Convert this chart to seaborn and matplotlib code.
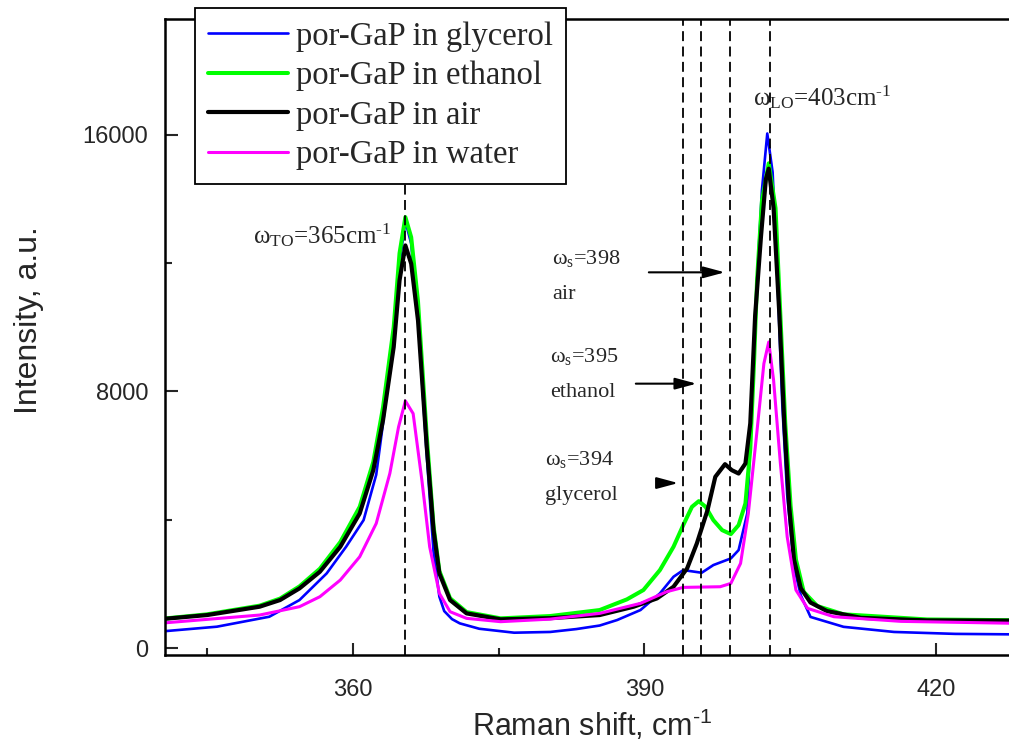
import numpy as np
import pandas as pd
import matplotlib
matplotlib.use("Agg")
import matplotlib.pyplot as plt
import seaborn as sns
from matplotlib.lines import Line2D

# Spectra (Raman shift in cm-1, intensity in a.u.)
x_gly = [340.0, 346.0, 351.4, 354.5, 357.3, 359.3, 361.1, 362.4, 363.1, 364.2, 364.8, 365.4, 366.0,
         366.7, 367.6, 368.3, 368.9, 369.4, 370.2, 371.0, 373.0, 376.6, 380.3, 383.0, 385.4, 387.2,
         389.6, 391.6, 393.0, 394.0, 395.9, 397.1, 398.9, 399.7, 400.6, 401.1, 401.6, 402.1, 402.65,
         403.2, 403.7, 404.2, 404.7, 405.4, 406.1, 407.1, 410.5, 415.7, 422.0, 430.0]
y_gly = [508, 664, 975, 1494, 2325, 3155, 3985, 5400, 7000, 9700, 12000, 13300, 12600,
         10300, 6000, 3000, 1600, 1150, 900, 768, 600, 477, 500, 590, 700, 872,
         1183, 1702, 2220, 2428, 2345, 2584, 2791, 3051, 4209, 8119, 11471, 14267, 16032,
         14824, 11471, 7561, 4769, 2534, 1641, 968, 660, 500, 440, 420]

x_eth = [340.0, 345.0, 350.4, 352.5, 354.5, 356.6, 358.7, 360.7, 362.1, 363.1, 364.2, 364.8, 365.4,
         366.0, 366.7, 367.6, 368.3, 368.9, 370.0, 371.7, 375.2, 380.3, 385.4, 388.2, 389.9, 391.6,
         393.0, 394.0, 394.9, 395.6, 396.3, 397.1, 398.0, 398.9, 399.7, 400.4, 400.9, 401.3, 401.6,
         402.1, 402.8, 403.5, 404.0, 404.5, 405.05, 405.6, 406.4, 407.8, 410.5, 419.1, 430.0]
y_eth = [900, 1050, 1320, 1540, 1920, 2470, 3300, 4400, 5800, 7500, 10000, 12300, 13427,
         12800, 10800, 6600, 3800, 2400, 1550, 1120, 924, 996, 1183, 1515, 1806, 2428,
         3155, 3829, 4400, 4576, 4400, 3985, 3673, 3549, 3829, 4504, 6200, 9000, 11471,
         13931, 15104, 13707, 10354, 7004, 4433, 2758, 1751, 1307, 1050, 890, 860]

x_air = [340.0, 345.0, 350.4, 352.5, 354.5, 356.6, 358.7, 360.7, 362.1, 363.1, 364.2, 364.8, 365.4,
         366.0, 366.7, 367.6, 368.3, 368.9, 370.0, 371.7, 375.2, 380.3, 385.4, 388.9, 391.3, 393.0,
         394.4, 395.4, 396.5, 397.3, 398.3, 399.0, 399.7, 400.4, 400.9, 401.4, 402.0, 402.5, 402.8,
         403.3, 403.9, 404.4, 404.9, 405.4, 406.1, 407.1, 408.8, 412.3, 419.1, 430.0]
y_air = [893, 1027, 1287, 1494, 1857, 2376, 3155, 4192, 5541, 7098, 9380, 11456, 12545,
         11975, 10211, 6267, 3673, 2325, 1494, 1079, 893, 930, 1027, 1287, 1546, 1909,
         2480, 3258, 4296, 5334, 5728, 5541, 5437, 5748, 7000, 10354, 12813, 14600, 14936,
         13707, 10354, 7004, 4433, 2758, 1862, 1416, 1150, 940, 860, 850]

x_wat = [340.0, 350.4, 354.5, 356.6, 358.7, 360.7, 362.4, 363.8, 364.7, 365.4, 366.2, 367.1, 367.9,
         368.9, 370.0, 371.7, 375.2, 380.3, 385.4, 389.6, 392.3, 394.0, 397.8, 398.9, 399.9, 400.7,
         401.6, 402.3, 402.8, 403.3, 404.0, 404.7, 405.6, 406.8, 409.5, 416.4, 430.0]
y_wat = [768, 1027, 1287, 1598, 2117, 2843, 3881, 5437, 6890, 7700, 7305, 5230, 3155,
         1702, 1131, 924, 820, 900, 1079, 1391, 1754, 1889, 1909, 2013, 2636, 4192,
         6786, 8862, 9536, 8343, 5748, 3465, 1806, 1235, 975, 830, 760]

series_labels = ["por-GaP in glycerol", "por-GaP in ethanol", "por-GaP in air", "por-GaP in water"]
series_colors = ["#0000ff", "#00ff00", "#000000", "#ff00ff"]
series_widths = [1.9, 2.9, 3.0, 2.2]

# positions of the dashed marker lines
mode_lines = [365.4, 394.0, 395.8, 398.8, 402.9]

sns.set_style("ticks")
plt.rcParams['font.family'] = ['Liberation Sans', 'DejaVu Sans']
plt.rcParams['mathtext.default'] = 'regular'

fig = plt.figure(figsize=(10.09, 7.5), dpi=100)
ax = fig.add_axes([165 / 1009, 95 / 750, 868 / 1009, 636 / 750])

curves = [(x_gly, y_gly), (x_eth, y_eth), (x_air, y_air), (x_wat, y_wat)]
for (xs, ys), lab, col, lw in zip(curves, series_labels, series_colors, series_widths):
    df = pd.DataFrame({"shift": xs, "intensity": ys})
    sns.lineplot(data=df, x="shift", y="intensity", color=col, linewidth=lw,
                 sort=False, estimator=None, ax=ax, legend=False)

for xv in mode_lines:
    ax.axvline(xv, color="black", linewidth=1.3, dashes=(5.5, 3), zorder=5)

ax.set_xlim(340.66, 430)
ax.set_ylim(-218, 19600)
ax.set_xticks([360, 390, 420])
ax.set_xticks([345, 375, 405], minor=True)
ax.set_yticks([0, 8000, 16000])
ax.set_yticks([4000, 12000], minor=True)
ax.tick_params(which="major", direction="in", length=9, width=1.5, labelsize=17)
ax.tick_params(which="minor", direction="in", length=5, width=1.5)
ax.tick_params(axis="x", pad=17)
ax.tick_params(axis="y", pad=12)
for sp in ax.spines.values():
    sp.set_linewidth(1.8)
    sp.set_color("black")

HY = "\u2010"
ax.set_xlabel("Raman shift, cm$^{\\mathregular{" + HY + "1}}$", fontsize=22)
ax.set_ylabel("Intensity, a.u.", fontsize=23)
ax.xaxis.set_label_coords(0.492, -0.083)
ax.yaxis.set_label_coords(-0.139, 0.527)

serif = "Liberation Serif"
ax.text(349.7, 12608, "ω$_{\\mathregular{TO}}$=365cm$^{\\mathregular{" + HY + "1}}$", fontsize=18, family=serif)
ax.text(401.2, 16904, "ω$_{\\mathregular{LO}}$=403cm$^{\\mathregular{" + HY + "1}}$", fontsize=18, family=serif)
ax.text(380.5, 11975, "ω$_{\\mathregular{s}}$=398", fontsize=16, family=serif)
ax.text(380.5, 10886, "air", fontsize=16, family=serif)
ax.text(380.3, 8903, "ω$_{\\mathregular{s}}$=395", fontsize=16, family=serif)
ax.text(380.3, 7835, "ethanol", fontsize=16, family=serif)
ax.text(379.8, 5706, "ω$_{\\mathregular{s}}$=394", fontsize=16, family=serif)
ax.text(379.8, 4607, "glycerol", fontsize=16, family=serif)

arrow_kw = dict(arrowstyle="-|>,head_length=1.3,head_width=0.35", color="black", lw=1.5,
                mutation_scale=10, shrinkA=0, shrinkB=0)
ax.annotate("", xy=(398.28, 11706), xytext=(390.46, 11706), arrowprops=arrow_kw)
ax.annotate("", xy=(395.37, 8237), xytext=(389.12, 8237), arrowprops=arrow_kw)
ax.annotate("", xy=(393.48, 5140), xytext=(391.32, 5140), arrowprops=arrow_kw)

handles = [Line2D([], [], color=c, linewidth=w) for c, w in zip(series_colors, series_widths)]
leg = ax.legend(handles, series_labels, loc="upper left", bbox_to_anchor=(195 / 1009, 1 - 8 / 750),
                bbox_transform=fig.transFigure, prop={"family": serif, "size": 23.5},
                frameon=True, fancybox=False, framealpha=1, edgecolor="black",
                handlelength=2.45, handletextpad=0.25, labelspacing=0.28, borderpad=0.4,
                borderaxespad=0)
leg.get_frame().set_linewidth(1.3)
leg.set_zorder(10)

fig.savefig("out.png", dpi=100)
